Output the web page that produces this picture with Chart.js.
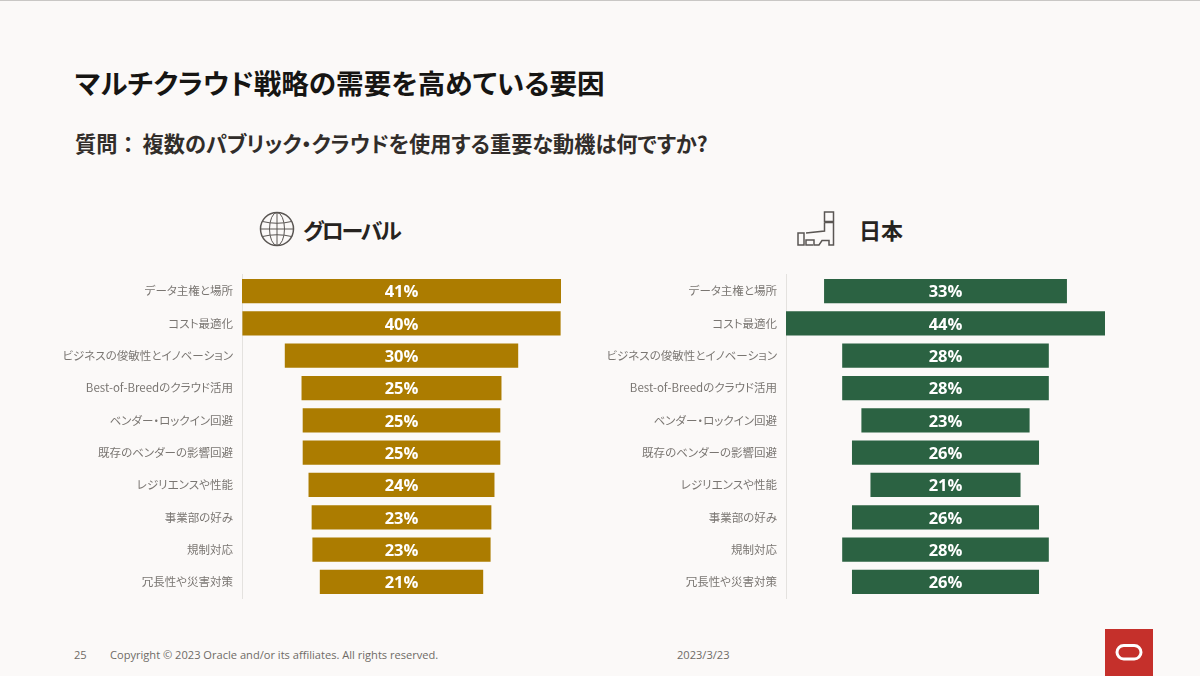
<!DOCTYPE html>
<html lang="ja">
<head>
<meta charset="utf-8">
<title>マルチクラウド戦略の需要を高めている要因</title>
<script src="https://cdn.jsdelivr.net/npm/chart.js@4"></script>
<style>
    html, body { margin: 0; padding: 0; }
    body {
        width: 1200px; height: 676px; position: relative; overflow: hidden;
        background: #fbf9f8; font-family: "Noto Sans CJK JP", "Noto Sans", sans-serif; color: #161513;
        font-feature-settings: "palt";
    }
    .abs { position: absolute; white-space: nowrap; }
    #topline { left: 0; top: 0; width: 1200px; height: 1px; background: #c9c7c5; }
    #titulo { left: 75px; top: 62px; font-size: 27.6px; font-weight: 700; line-height: 40px; }
    #pregunta { left: 75px; top: 128px; font-size: 21.2px; font-weight: 700; line-height: 30px; color: #312d2a; }
    #pregunta span { font-feature-settings: normal; margin-right: 4px; }
    .grupo { font-size: 22px; font-weight: 700; line-height: 34px; top: 212px; color: #262320; }
    .pie { font-family: "Open Sans", sans-serif; font-size: 11.1px; line-height: 16px; top: 647px; color: #6f6b66; font-feature-settings: normal; }
    #logo { left: 1105px; top: 629px; width: 48px; height: 47px; background: #c5302b; }
    canvas { display: block; }
    .box { position: absolute; }
</style>
</head>
<body>
<div class="abs" id="topline"></div>
<div class="abs" id="titulo">マルチクラウド戦略の需要を高めている要因</div>
<div class="abs" id="pregunta"><span>質問：</span>複数のパブリック・クラウドを使用する重要な動機は何ですか?</div>

<svg class="abs" style="left:259px;top:211px" width="36" height="36" viewBox="0 0 36 36" fill="none" stroke="#5a5653" stroke-width="1">
    <circle cx="18" cy="18" r="16.5" stroke-width="1.5"/>
    <ellipse cx="18" cy="18" rx="7.5" ry="16.5"/>
    <path d="M18 1.5V34.5M3.5 10.5Q18 14 32.5 10.5M1.5 18H34.5M3.5 25.5Q18 22 32.5 25.5"/>
</svg>
<div class="abs grupo" style="left:303px;letter-spacing:-2.2px">グローバル</div>

<svg class="abs" style="left:797px;top:211px" width="40" height="36" viewBox="0 0 40 36" fill="none" stroke="#5a5653" stroke-width="1.5">
    <path d="M27.5 1H36.5V10.500H27.500ZM27.500 11.500H36.500V34H32V29.500H25L22 34H17V29H9V34M9 22L27.500 20V11.500M1 22H7V34H1ZM9 29V34H16"/>
</svg>
<div class="abs grupo" style="left:859px">日本</div>

<div class="box" style="left:40px;top:259px;width:521px;height:355px"><canvas id="chartGlobal"></canvas></div>
<div class="box" style="left:584px;top:259px;width:521px;height:355px"><canvas id="chartJapon"></canvas></div>

<div class="abs pie" style="left:74px">25</div>
<div class="abs pie" style="left:110px">Copyright © 2023 Oracle and/or its affiliates. All rights reserved.</div>
<div class="abs pie" style="left:677px">2023/3/23</div>
<div class="abs" id="logo">
    <svg width="48" height="47" viewBox="0 0 48 47" fill="none">
        <rect x="12" y="16.5" width="24" height="13.5" rx="6.75" stroke="#fff" stroke-width="3"/>
    </svg>
</div>

<script>
const categorias = [
    'データ主権と場所', 'コスト最適化', 'ビジネスの俊敏性とイノベーション', 'Best-of-Breedのクラウド活用',
    'ベンダー・ロックイン回避', '既存のベンダーの影響回避', 'レジリエンスや性能', '事業部の好み', '規制対応', '冗長性や災害対策'
];
// bar lengths, printed labels are the rounded figures on the slide
const valoresGlobal = [41, 40.9, 30, 25.7, 25.4, 25.4, 23.9, 23.1, 22.9, 21];
const etiquetasGlobal = ['41%', '40%', '30%', '25%', '25%', '25%', '24%', '23%', '23%', '21%'];
const valoresJapon = [33.5, 44, 28.5, 28.5, 23.2, 25.8, 20.7, 25.8, 28.5, 25.8];
const etiquetasJapon = ['33%', '44%', '28%', '28%', '23%', '26%', '21%', '26%', '28%', '26%'];

const fuente = '"Noto Sans CJK JP", "Noto Sans", sans-serif';

const pluginEtiquetas = {
    id: 'etiquetasBarra',
    afterDatasetsDraw(chart, args, opts) {
        const ctx = chart.ctx;
        ctx.save();
        ctx.font = '700 16.5px "Open Sans", sans-serif';
        ctx.fillStyle = '#ffffff';
        ctx.textAlign = 'center';
        ctx.textBaseline = 'middle';
        chart.getDatasetMeta(0).data.forEach(function (barra, i) {
            ctx.fillText(opts.textos[i], (barra.base + barra.x) / 2, barra.y + 1.5);
        });
        ctx.restore();
    }
};

function crearEmbudo(id, valores, etiquetas, color, anchoEje) {
    const mitad = Math.max(...valores) / 2;
    return new Chart(document.getElementById(id), {
        type: 'bar',
        data: {
            labels: categorias,
            datasets: [{
                data: valores.map(v => [-v / 2, v / 2]),
                backgroundColor: color,
                categoryPercentage: 1,
                barPercentage: 0.75,
                borderSkipped: false
            }]
        },
        plugins: [pluginEtiquetas],
        options: {
            indexAxis: 'y',
            responsive: true,
            maintainAspectRatio: false,
            animation: false,
            plugins: {
                legend: { display: false },
                tooltip: { enabled: false },
                etiquetasBarra: { textos: etiquetas }
            },
            scales: {
                x: { display: false, min: -mitad, max: mitad },
                y: {
                    afterFit(escala) { escala.width = anchoEje; },
                    grid: { display: false, drawTicks: false },
                    border: { display: true, color: '#e4e2df', width: 1 },
                    ticks: {
                        autoSkip: false,
                        padding: 9,
                        color: '#7a7672',
                        font: { family: fuente, size: 11.5 }
                    }
                }
            }
        }
    });
}

crearEmbudo('chartGlobal', valoresGlobal, etiquetasGlobal, '#ac7c00', 202);
crearEmbudo('chartJapon', valoresJapon, etiquetasJapon, '#2b6242', 202);
</script>
</body>
</html>
